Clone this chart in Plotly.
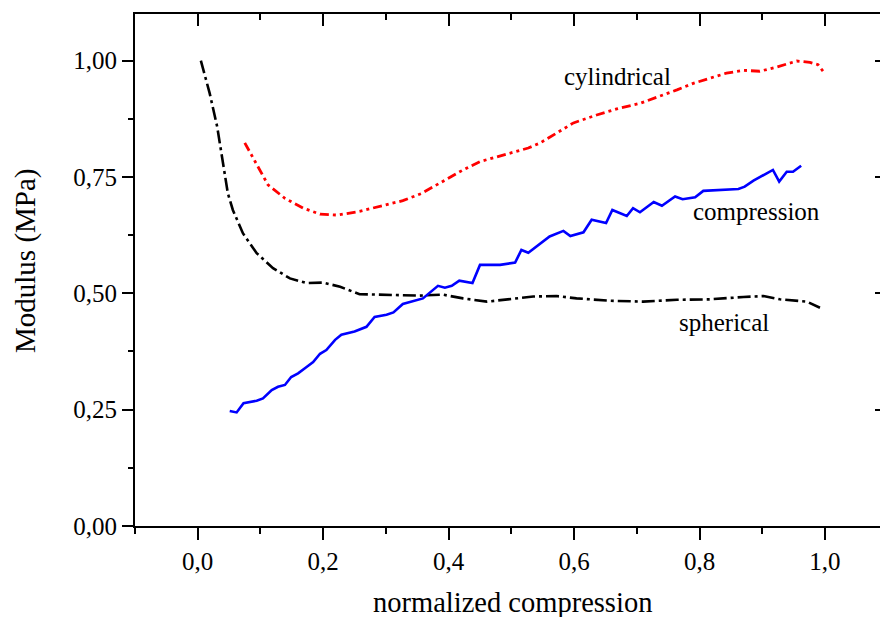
import plotly.graph_objects as go

# spherical (black dash-dot)
sph_x = [0.005, 0.019, 0.031, 0.040, 0.048, 0.056, 0.072, 0.094, 0.120, 0.147, 0.173, 0.200,
         0.227, 0.258, 0.306, 0.354, 0.391, 0.423, 0.461, 0.492, 0.535, 0.572, 0.604, 0.657,
         0.710, 0.764, 0.817, 0.870, 0.902, 0.928, 0.971, 0.992]
sph_y = [1.000, 0.930, 0.858, 0.780, 0.715, 0.679, 0.629, 0.586, 0.554, 0.532, 0.522, 0.523,
         0.514, 0.498, 0.497, 0.495, 0.497, 0.489, 0.482, 0.486, 0.493, 0.494, 0.489, 0.484,
         0.482, 0.486, 0.487, 0.492, 0.494, 0.487, 0.482, 0.469]

# cylindrical (red dash-dot-dot)
cyl_x = [0.075, 0.092, 0.112, 0.139, 0.168, 0.195, 0.223, 0.258, 0.290, 0.327, 0.356, 0.391,
         0.423, 0.450, 0.487, 0.527, 0.546, 0.567, 0.599, 0.636, 0.668, 0.705, 0.737, 0.764,
         0.790, 0.817, 0.843, 0.870, 0.896, 0.923, 0.955, 0.976, 0.989, 0.998]
cyl_y = [0.823, 0.782, 0.733, 0.704, 0.683, 0.670, 0.668, 0.676, 0.686, 0.699, 0.714, 0.740,
         0.765, 0.783, 0.797, 0.812, 0.823, 0.840, 0.866, 0.883, 0.896, 0.908, 0.923, 0.937,
         0.951, 0.962, 0.973, 0.979, 0.977, 0.986, 0.999, 0.996, 0.991, 0.975]

# compression (blue solid)
cmp_x = [0.051, 0.062, 0.073, 0.094, 0.104, 0.118, 0.128, 0.139, 0.149, 0.160, 0.173, 0.184,
         0.195, 0.205, 0.219, 0.229, 0.250, 0.269, 0.282, 0.301, 0.312, 0.327, 0.359, 0.383,
         0.394, 0.405, 0.417, 0.438, 0.450, 0.482, 0.506, 0.516, 0.527, 0.561, 0.583, 0.594,
         0.615, 0.628, 0.651, 0.661, 0.684, 0.694, 0.705, 0.727, 0.740, 0.761, 0.773, 0.793,
         0.806, 0.862, 0.872, 0.886, 0.917, 0.927, 0.939, 0.949, 0.962]
cmp_y = [0.247, 0.244, 0.264, 0.269, 0.274, 0.292, 0.299, 0.303, 0.320, 0.328, 0.341, 0.352,
         0.370, 0.378, 0.400, 0.411, 0.418, 0.428, 0.449, 0.454, 0.459, 0.477, 0.489, 0.516,
         0.512, 0.516, 0.527, 0.522, 0.561, 0.561, 0.566, 0.593, 0.587, 0.622, 0.634, 0.623,
         0.631, 0.658, 0.651, 0.679, 0.666, 0.683, 0.674, 0.696, 0.688, 0.708, 0.702, 0.706,
         0.720, 0.724, 0.729, 0.742, 0.765, 0.740, 0.761, 0.761, 0.774]

labels = ["cylindrical", "compression", "spherical"]
label_x = [0.670, 0.891, 0.839]
label_y = [0.965, 0.675, 0.438]

x_title = "normalized compression"
y_title = "Modulus (MPa)"

FONT = "'Liberation Serif', 'Times New Roman', Times, serif"
XR = [-0.1, 1.0877]
YR = [0.0, 1.1]

fig = go.Figure()
fig.add_trace(go.Scatter(x=sph_x, y=sph_y, mode="lines", name="spherical",
                         line=dict(color="black", width=2.6, dash="13px,4px,3px,4px")))
fig.add_trace(go.Scatter(x=cyl_x, y=cyl_y, mode="lines", name="cylindrical",
                         line=dict(color="#ff0000", width=2.8, dash="9px,4px,3px,4px,3px,4px")))
fig.add_trace(go.Scatter(x=cmp_x, y=cmp_y, mode="lines", name="compression",
                         line=dict(color="#0000ff", width=2.6)))
# invisible trace to anchor the mirrored top/right axes
fig.add_trace(go.Scatter(x=[XR[0]], y=[YR[0]], xaxis="x2", yaxis="y2", mode="markers",
                         marker=dict(opacity=0), hoverinfo="skip", showlegend=False))

for t, xx, yy in zip(labels, label_x, label_y):
    fig.add_annotation(x=xx, y=yy, text=t, showarrow=False, xanchor="center", yanchor="middle",
                       font=dict(family=FONT, size=25, color="black"))

fig.add_annotation(xref="paper", yref="paper", x=(512 - 135) / 745, y=(526 - 602) / 512,
                   text=x_title, showarrow=False, xanchor="center", yanchor="middle",
                   font=dict(family=FONT, size=28.5, color="black"))
fig.add_annotation(xref="paper", yref="paper", x=(25 - 135) / 745, y=(526 - 261) / 512,
                   text=y_title, showarrow=False, xanchor="center", yanchor="middle",
                   textangle=-90, font=dict(family=FONT, size=29, color="black"))

axis_common = dict(showgrid=False, zeroline=False, showline=True, linecolor="black",
                   linewidth=2, tickcolor="black", tickwidth=2)

fig.update_layout(
    width=880, height=617,
    margin=dict(l=135, r=0, t=14, b=91),
    paper_bgcolor="white", plot_bgcolor="white",
    showlegend=False,
    separators=", ",
    font=dict(family=FONT, size=25, color="black"),
    xaxis=dict(range=XR, dtick=0.2, tick0=0, tickformat=".1f", ticks="outside", ticklen=12,
               minor=dict(dtick=0.1, tick0=0, ticks="outside", ticklen=6, tickwidth=2, tickcolor="black"),
               tickfont=dict(family=FONT, size=25), **axis_common),
    yaxis=dict(range=YR, dtick=0.25, tick0=0, tickformat=".2f", ticks="outside", ticklen=11,
               minor=dict(dtick=0.125, tick0=0, ticks="outside", ticklen=5, tickwidth=2, tickcolor="black"),
               tickfont=dict(family=FONT, size=25), **axis_common),
    xaxis2=dict(range=XR, overlaying="x", side="top", dtick=0.2, tick0=0, ticks="inside", ticklen=12,
                minor=dict(dtick=0.1, tick0=0, ticks="inside", ticklen=6, tickwidth=2, tickcolor="black"),
                showticklabels=False, **axis_common),
    yaxis2=dict(range=YR, overlaying="y", side="right", dtick=0.25, tick0=0, ticks="inside", ticklen=5,
                showticklabels=False, showgrid=False, zeroline=False, showline=False,
                tickcolor="black", tickwidth=2),
)

fig.write_html("out.html")
